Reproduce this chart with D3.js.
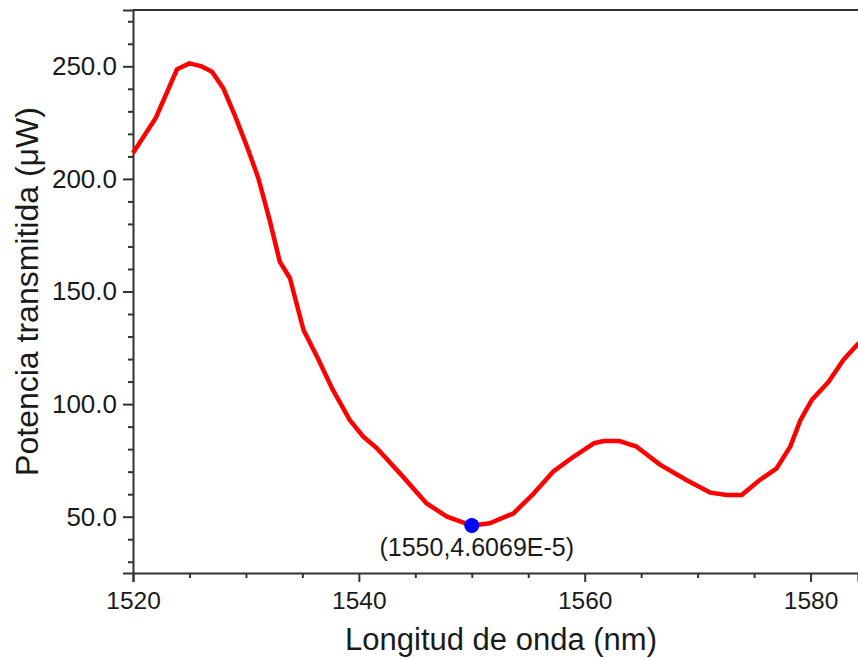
<!DOCTYPE html>
<html>
<head>
<meta charset="utf-8">
<script src="https://cdn.jsdelivr.net/npm/d3@7"></script>
<style>
  html, body { margin: 0; padding: 0; background: #fff; }
  svg { display: block; font-family: "Liberation Sans", Arial, sans-serif; }
</style>
</head>
<body>
<div id="chart"></div>
<script>
// Transmission spectrum
const wavelength = [1520, 1522, 1523.9, 1525, 1526, 1527, 1528, 1529, 1530.1, 1531.1, 1532.1, 1533,
  1533.9, 1534.4, 1535.1, 1536.3, 1537.7, 1539.2, 1540.4, 1541.6, 1543.9, 1546, 1547.8, 1550,
  1551.6, 1553.7, 1555.5, 1557.2, 1559, 1560.8, 1561.7, 1563.1, 1564.6, 1566.7, 1569, 1571.1,
  1572.6, 1573.9, 1575.5, 1577, 1578.2, 1579.1, 1580.1, 1581.6, 1582.9, 1584.1, 1585.2];
const power = [211.5, 226.9, 248.7, 251.3, 250.1, 247.6, 240.2, 228.4, 214.3, 200.3, 181.7, 163.2,
  155.9, 146.2, 132.9, 121.0, 106.3, 92.9, 85.5, 80.4, 67.8, 55.9, 50.0, 46.07,
  47.1, 51.5, 60.4, 70.0, 76.6, 82.6, 83.6, 83.6, 81.1, 73.0, 66.3, 60.7,
  59.6, 59.6, 66.3, 71.5, 81.1, 92.9, 101.8, 109.9, 119.6, 126.2, 131.5];

const xTicks = [1520, 1540, 1560, 1580];
const xMinor = [1525, 1530, 1535, 1545, 1550, 1555, 1565, 1570, 1575, 1585];
const yTicks = [50, 100, 150, 200, 250];
const yMinor = [30, 40, 60, 70, 80, 90, 110, 120, 130, 140, 160, 170, 180, 190, 210, 220, 230, 240, 260, 270];

const marker = { x: 1550, y: 46.069, label: "(1550,4.6069E-5)" };

const W = 858, H = 658;
const mLeft = 133, mTop = 10, mBottom = 573;
const FONT = '"Liberation Sans", Arial, sans-serif';

const x = d3.scaleLinear().domain([1520, 1584.2]).range([mLeft, W]);
const y = d3.scaleLinear().domain([25, 275]).range([mBottom, mTop]);

const axisCol = "#333", textCol = "#1a1a1a";

const svg = d3.select("#chart").append("svg").attr("width", W).attr("height", H);

// top frame line
svg.append("line")
  .attr("x1", mLeft).attr("x2", W).attr("y1", mTop).attr("y2", mTop)
  .attr("stroke", axisCol).attr("stroke-width", 2);

// x axis
const gx = svg.append("g").attr("transform", `translate(0,${mBottom})`)
  .call(d3.axisBottom(x).tickValues(xTicks).tickFormat(d3.format("d")).tickSize(9).tickPadding(10))
  .attr("font-family", FONT);
gx.select(".domain").attr("stroke", axisCol).attr("stroke-width", 2);
gx.selectAll(".tick line").attr("stroke", axisCol).attr("stroke-width", 2);
gx.selectAll(".tick text").attr("fill", textCol).attr("font-size", 24.5);
svg.append("g").attr("transform", `translate(0,${mBottom})`)
  .call(d3.axisBottom(x).tickValues(xMinor).tickFormat("").tickSize(5))
  .call(g => g.select(".domain").remove())
  .selectAll(".tick line").attr("stroke", axisCol).attr("stroke-width", 2);

// y axis
const gy = svg.append("g").attr("transform", `translate(${mLeft},0)`)
  .call(d3.axisLeft(y).tickValues(yTicks).tickFormat(d3.format(".1f")).tickSize(10).tickPadding(6))
  .attr("font-family", FONT);
gy.select(".domain").attr("stroke", axisCol).attr("stroke-width", 2);
gy.selectAll(".tick line").attr("stroke", axisCol).attr("stroke-width", 2);
gy.selectAll(".tick text").attr("fill", textCol).attr("font-size", 26);
svg.append("g").attr("transform", `translate(${mLeft},0)`)
  .call(d3.axisLeft(y).tickValues(yMinor).tickFormat("").tickSize(5))
  .call(g => g.select(".domain").remove())
  .selectAll(".tick line").attr("stroke", axisCol).attr("stroke-width", 2);

// curve
const line = d3.line().x((d, i) => x(wavelength[i])).y(d => y(d));
svg.append("path")
  .attr("d", line(power))
  .attr("fill", "none")
  .attr("stroke", "#ff0000")
  .attr("stroke-width", 4.5)
  .attr("stroke-linejoin", "round");

// marker + label
svg.append("circle")
  .attr("cx", x(marker.x)).attr("cy", y(marker.y)).attr("r", 7.5)
  .attr("fill", "#0000ff");
svg.append("text")
  .attr("x", x(marker.x) + 5).attr("y", 556)
  .attr("text-anchor", "middle").attr("font-size", 25).attr("fill", textCol)
  .text(marker.label);

// axis titles
svg.append("text")
  .attr("x", 501).attr("y", 650)
  .attr("text-anchor", "middle").attr("font-size", 31).attr("fill", textCol)
  .text("Longitud de onda (nm)");
svg.append("text")
  .attr("transform", `translate(38,${(mTop + mBottom) / 2}) rotate(-90)`)
  .attr("text-anchor", "middle").attr("font-size", 32).attr("fill", textCol)
  .text("Potencia transmitida (μW)");
</script>
</body>
</html>
